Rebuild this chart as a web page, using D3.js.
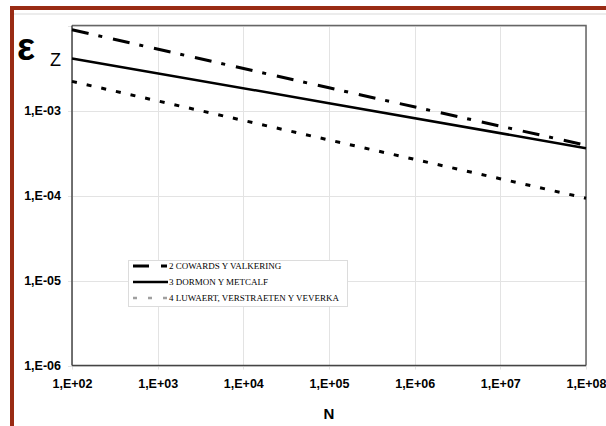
<!DOCTYPE html>
<html>
<head>
<meta charset="utf-8">
<script src="https://cdn.jsdelivr.net/npm/d3@7/dist/d3.min.js"></script>
<style>
  html, body { margin: 0; padding: 0; background: #fff; }
  svg { display: block; }
</style>
</head>
<body>
<svg id="chart" width="606" height="426"></svg>
<script>
// Number of cycles N (log axis)
const cycles = [1e2, 1e5, 1e8];

// Strain εz for each model
const series = ["2 COWARDS Y VALKERING", "3 DORMON Y METCALF", "4 LUWAERT, VERSTRAETEN Y VEVERKA"];
const cowardsValkering = [8.9e-3, 1.85e-3, 3.9e-4];
const dormonMetcalf = [4.1e-3, 1.22e-3, 3.6e-4];
const luwaertVerstraeten = [2.2e-3, 4.5e-4, 9.3e-5];

// Axis ticks
const xTicks = [1e2, 1e3, 1e4, 1e5, 1e6, 1e7, 1e8];
const xTickLabels = ["1,E+02", "1,E+03", "1,E+04", "1,E+05", "1,E+06", "1,E+07", "1,E+08"];
const yTicks = [1e-6, 1e-5, 1e-4, 1e-3];
const yTickLabels = ["1,E-06", "1,E-05", "1,E-04", "1,E-03"];
const yGrid = [1e-6, 1e-5, 1e-4, 1e-3, 1e-2];

const svg = d3.select("#chart");
const plotL = 72, plotR = 586, plotT = 25.5, plotB = 365.5;

const x = d3.scaleLog().domain([1e2, 1e8]).range([plotL, plotR]);
const y = d3.scaleLog().domain([1e-6, 1e-2]).range([plotB, plotT]);

// Outer frame: dark red top and left rules, thin grey rule under the top
svg.append("line").attr("x1", 10).attr("x2", 606).attr("y1", 8).attr("y2", 8)
  .attr("stroke", "#992b14").attr("stroke-width", 4);
svg.append("line").attr("x1", 12).attr("x2", 12).attr("y1", 6).attr("y2", 426)
  .attr("stroke", "#992b14").attr("stroke-width", 4);
svg.append("line").attr("x1", 14).attr("x2", 606).attr("y1", 14).attr("y2", 14)
  .attr("stroke", "#ececec").attr("stroke-width", 2);

// Gridlines
const grid = svg.append("g").attr("stroke", "#e3e3e3").attr("stroke-width", 1);
grid.selectAll(".gx").data(xTicks).join("line")
  .attr("x1", d => Math.round(x(d)) + 0.5).attr("x2", d => Math.round(x(d)) + 0.5)
  .attr("y1", plotT).attr("y2", plotB + 4);
grid.selectAll(".gy").data(yGrid).join("line")
  .attr("y1", d => Math.round(y(d)) + 0.5).attr("y2", d => Math.round(y(d)) + 0.5)
  .attr("x1", plotL - 4).attr("x2", plotR);

// Plot frame
svg.append("path")
  .attr("d", `M${plotL},${plotT}H${plotR}V${plotB}`)
  .attr("fill", "none").attr("stroke", "#666").attr("stroke-width", 1.5);

// Axes
const xAxis = d3.axisBottom(x).tickValues(xTicks)
  .tickFormat((d, i) => xTickLabels[i]).tickSize(0).tickPadding(14);
const yAxis = d3.axisLeft(y).tickValues(yTicks)
  .tickFormat((d, i) => yTickLabels[i]).tickSize(0).tickPadding(11);

const gx = svg.append("g").attr("transform", `translate(0,${plotB})`).call(xAxis);
const gy = svg.append("g").attr("transform", `translate(${plotL},0)`).call(yAxis);
[gx, gy].forEach(g => {
  g.select(".domain").attr("stroke", "#444").attr("stroke-width", 1.5);
  g.selectAll("text")
    .attr("font-family", "Liberation Sans, Arial, sans-serif")
    .attr("font-weight", "bold").attr("font-size", "12.5px").attr("fill", "#000");
});
gy.select(".domain").attr("d", `M0,${plotB}V${plotT}`);
gx.select(".domain").attr("d", `M${plotL},0H${plotR}`);

// Series lines
const line = d3.line().x((d, i) => x(cycles[i])).y(d => y(d));
const styles = [
  { data: cowardsValkering, dash: "17,10,4,11", width: 3 },
  { data: dormonMetcalf, dash: null, width: 2.5 },
  { data: luwaertVerstraeten, dash: "5,10", width: 3 }
];
styles.forEach(s => {
  svg.append("path").datum(s.data)
    .attr("d", line)
    .attr("fill", "none").attr("stroke", "#000")
    .attr("stroke-width", s.width)
    .attr("stroke-dasharray", s.dash);
});

// Legend
const lg = svg.append("g");
lg.append("rect").attr("x", 128.5).attr("y", 260.5).attr("width", 219).attr("height", 46)
  .attr("fill", "#fff").attr("stroke", "#dcdcdc").attr("stroke-width", 1);
const legendStyles = [
  { dash: "16,12,6", color: "#000", width: 3 },
  { dash: null, color: "#000", width: 2.5 },
  { dash: "4,11", color: "#a0a0a0", width: 2.5 }
];
series.forEach((name, i) => {
  const cy = 266 + i * 16;
  lg.append("line").attr("x1", 133).attr("x2", 168).attr("y1", cy).attr("y2", cy)
    .attr("stroke", legendStyles[i].color).attr("stroke-width", legendStyles[i].width)
    .attr("stroke-dasharray", legendStyles[i].dash);
  lg.append("text").attr("x", 169).attr("y", cy + 3.2)
    .attr("font-family", "Liberation Serif, Times New Roman, serif")
    .attr("font-size", "9px").attr("fill", "#000")
    .text(name);
});

// Axis titles
svg.append("text").attr("x", 329).attr("y", 419).attr("text-anchor", "middle")
  .attr("font-family", "Liberation Sans, Arial, sans-serif")
  .attr("font-weight", "bold").attr("font-size", "15px").text("N");
svg.append("text").attr("x", 17).attr("y", 60)
  .attr("font-family", "Liberation Sans, Arial, sans-serif")
  .attr("font-weight", "bold").attr("font-size", "38px").text("ε");
svg.append("text").attr("x", 50).attr("y", 66)
  .attr("font-family", "Liberation Sans, Arial, sans-serif")
  .attr("font-size", "18px").text("Z");
</script>
</body>
</html>
